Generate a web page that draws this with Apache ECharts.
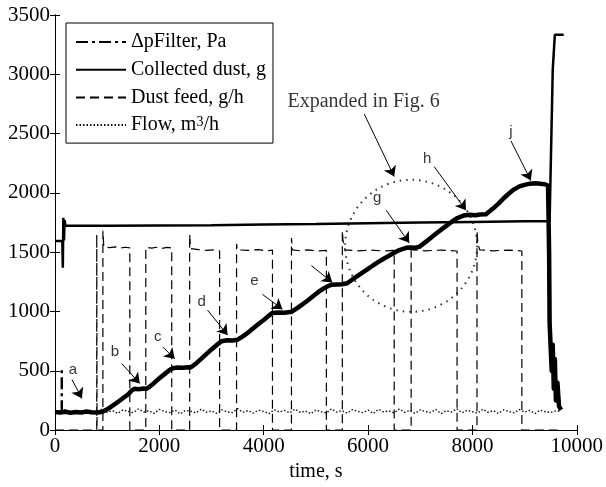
<!DOCTYPE html>
<html><head><meta charset="utf-8">
<script src="https://cdn.jsdelivr.net/npm/echarts@6.0.0/dist/echarts.min.js"></script>
<style>html,body{margin:0;padding:0;background:#fff}#c{width:606px;height:487px}</style>
</head><body><div id="c"></div>
<script>
// ---- data (time in s, values in axis units) ----
const xTicks = [0, 2000, 4000, 6000, 8000, 10000];
const yTicks = [0, 500, 1000, 1500, 2000, 2500, 3000, 3500];

const legendNames = ['ΔpFilter, Pa', 'Collected dust, g', 'Dust feed, g/h', 'Flow, m3/h'];

// ΔpFilter trace [time, Pa]
const dpFilter = [
  [0,152],[100,148],[200,155],[300,147],[400,153],[500,149],[600,156],[700,150],[800,148],[900,152],
  [920,152],[1000,175],[1100,205],[1200,235],[1300,268],[1400,300],[1480,338],[1530,348],[1600,345],[1700,350],[1750,348],
  [1800,362],[1900,398],[2000,437],[2100,472],[2200,508],[2262,522],[2350,527],[2450,525],[2550,530],[2600,528],
  [2700,560],[2800,600],[2900,640],[3000,680],[3100,718],[3190,750],[3300,757],[3400,755],[3500,762],
  [3600,790],[3700,822],[3800,858],[3900,895],[4000,928],[4100,965],[4170,988],[4300,992],[4400,990],[4540,998],
  [4650,1030],[4750,1062],[4850,1095],[4950,1130],[5050,1165],[5150,1195],[5250,1218],[5300,1225],[5400,1228],[5500,1230],[5600,1238],
  [5700,1270],[5800,1300],[5900,1330],[6000,1360],[6100,1390],[6200,1418],[6300,1445],[6400,1470],[6500,1495],[6600,1518],[6730,1537],[6800,1540],[6900,1538],[6980,1545],
  [7100,1585],[7200,1620],[7300,1655],[7400,1690],[7500,1722],[7600,1755],[7700,1785],[7840,1810],[7950,1815],[8050,1812],[8150,1818],[8260,1820],
  [8300,1835],[8400,1870],[8500,1910],[8600,1955],[8700,1995],[8800,2030],[8900,2055],[9000,2068],[9100,2078],[9200,2082],[9300,2078],[9400,2072],[9450,2060],
  [9470,1500],[9480,900],[9500,700],[9520,500],[9540,720],[9560,350],[9580,600],[9600,250],[9630,400],[9660,200],[9700,170]
];
// ΔpFilter start spike (dash-dot)
const dpSpike = [[130,150],[130,520]];

// Collected dust [time, g]
const collected = [
  [0,1595],[140,1595],[150,1370],[160,1790],[172,1600],[185,1770],[200,1722],[1000,1722],[2000,1725],[3000,1728],
  [4000,1733],[5000,1738],[6000,1744],[7000,1750],[8000,1755],[9000,1760],[9480,1762],[9540,3040],[9580,3333],[9750,3333]
];

// Dust feed [time, g/h]
const feed = [
  [0,0],[800,0],[800,1650],[806,0],
  [918,0],[918,1680],[935,1545],[1050,1538],[1150,1545],[1250,1535],[1350,1542],[1434,1536],[1434,0],
  [1740,0],[1740,1540],[1850,1535],[1950,1542],[2050,1532],[2150,1540],[2237,1535],[2237,0],
  [2581,0],[2581,1650],[2600,1530],[2750,1522],[2900,1515],[3050,1520],[3155,1512],[3155,0],
  [3480,0],[3480,1570],[3500,1520],[3700,1515],[3900,1522],[4050,1512],[4168,1518],[4168,0],
  [4532,0],[4532,1620],[4550,1520],[4700,1512],[4850,1520],[5000,1510],[5201,1515],[5201,0],
  [5507,0],[5507,1680],[5520,1600],[5540,1560],[5560,1520],[5800,1512],[6050,1518],[6300,1510],[6501,1515],[6501,0],
  [6826,0],[6826,1560],[6850,1520],[7100,1512],[7400,1518],[7706,1510],[7706,0],
  [8088,0],[8088,1680],[8100,1600],[8120,1550],[8140,1520],[8400,1512],[8700,1518],[8948,1510],[8948,0],[9700,0]
];

// Flow, sampled every 100 s from 0
const flowStep = 100;
const flowValues = [
  160,142,175,150,168,138,172,155,145,180,
  150,165,140,170,158,147,178,152,163,141,
  174,156,148,169,137,166,159,145,176,151,
  162,140,171,154,147,181,150,164,143,168,
  157,139,173,152,166,146,177,149,161,138,
  170,155,144,179,151,165,142,172,158,147,
  169,140,175,153,162,145,178,150,166,141,
  171,156,148,174,139,163,152,180,146,167,
  155,143,176,150,164,141,170,157,145,173,
  152,166,140,168,155,149,162,158
];

// annotations (data coordinates)
const letterTexts = ['a','b','c','d','e','g','h','j'];
const letterAt = [[344,510],[1147,660],[1969,785],[2811,1078],[3824,1261],[6176,1955],[7132,2289],[8738,2514]];
const arrows = [
  [325,426,516,267],[1281,560,1625,393],[2065,702,2294,601],[2925,1011,3308,802],[3977,1144,4359,1019],
  [4914,1387,5315,1245],[6348,1854,6788,1579],[7266,2222,7877,1854],[8738,2439,9120,2105],[5927,2665,6501,2138]
];
const expandedText = 'Expanded in Fig. 6';
const expandedAt = [4455, 2765];
const circleCenter = [6826, 1554];

// ---- chart ----
const serif = '"Liberation Serif", "Times New Roman", serif';
const chart = echarts.init(document.getElementById('c'), null, {renderer: 'canvas'});
const flow = flowValues.map((v, i) => [i * flowStep, v]);

const axisCommon = {
  type: 'value',
  axisLine: {show: true, lineStyle: {color: '#000', width: 1}},
  axisTick: {show: true, inside: true, length: 5, lineStyle: {color: '#000'}},
  splitLine: {show: false}
};
const serifRich = {s: {fontSize: 21, fontFamily: serif, color: '#000'}};
const labelStyle = {fontSize: 21, fontFamily: serif, color: '#000',
  formatter: v => '{s|' + v + '}', rich: serifRich};

chart.setOption({
  animation: false,
  backgroundColor: '#fff',
  textStyle: {fontFamily: serif},
  grid: {left: 55, right: 28, top: 15, bottom: 53},
  legend: {
    data: legendNames,
    orient: 'vertical',
    left: 66, top: 23,
    padding: [9, 7, 8, 9],
    itemWidth: 50, itemHeight: 14, itemGap: 7.7,
    borderColor: '#000', borderWidth: 1,
    backgroundColor: '#fff',
    selectedMode: false,
    itemStyle: {color: 'rgba(0,0,0,0)', borderWidth: 0, opacity: 0},
    formatter: n => n === 'Flow, m3/h' ? '{s|Flow, m}{sup|3}{s|/h}' : '{s|' + n + '}',
    textStyle: {
      fontSize: 20, fontFamily: serif, color: '#000', lineHeight: 20,
      rich: {
        s: {fontSize: 20, fontFamily: serif, color: '#000', lineHeight: 20},
        sup: {fontSize: 14, fontFamily: serif, color: '#000', verticalAlign: 'top', lineHeight: 12}
      }
    }
  },
  xAxis: [
    Object.assign({}, axisCommon, {
      min: xTicks[0], max: xTicks[xTicks.length - 1], interval: xTicks[1] - xTicks[0],
      axisLabel: Object.assign({margin: 6}, labelStyle),
      name: 'time, s', nameLocation: 'middle', nameGap: 26,
      nameTextStyle: {fontSize: 20, fontFamily: serif, color: '#000'}
    }),
    Object.assign({}, axisCommon, {
      position: 'top', min: xTicks[0], max: xTicks[xTicks.length - 1], interval: xTicks[1] - xTicks[0],
      axisLabel: {show: false}
    })
  ],
  yAxis: [
    Object.assign({}, axisCommon, {
      min: yTicks[0], max: yTicks[yTicks.length - 1], interval: yTicks[1] - yTicks[0],
      axisLabel: Object.assign({margin: 5}, labelStyle)
    }),
    Object.assign({}, axisCommon, {
      position: 'right', min: yTicks[0], max: yTicks[yTicks.length - 1], interval: yTicks[1] - yTicks[0],
      axisLabel: {show: false}
    })
  ],
  series: [
    {
      name: 'Dust feed, g/h', type: 'line', data: feed, symbol: 'none', z: 2,
      lineStyle: {color: '#000', width: 1.2, type: [9, 5]}, itemStyle: {color: '#000'}
    },
    {
      name: 'Flow, m3/h', type: 'line', data: flow, symbol: 'none', z: 3,
      lineStyle: {color: '#111', width: 1.4, type: [1.5, 2]}, itemStyle: {color: '#111'}
    },
    {
      name: 'ΔpFilter trace', type: 'line', data: dpFilter, symbol: 'none', z: 4,
      lineStyle: {color: '#000', width: 4.5, join: 'round'}, itemStyle: {color: '#000'}
    },
    {
      name: 'ΔpFilter, Pa', type: 'line', data: dpSpike, symbol: 'none', z: 4,
      lineStyle: {color: '#000', width: 2.5, type: [12, 4, 3, 4]}, itemStyle: {color: '#000'}
    },
    {
      name: 'Collected dust, g', type: 'line', data: collected, symbol: 'none', z: 5,
      lineStyle: {color: '#000', width: 2.5}, itemStyle: {color: '#000'}
    },
    {
      name: 'circle', type: 'scatter', data: [circleCenter], symbol: 'circle', symbolSize: 132, z: 3,
      silent: true,
      itemStyle: {color: 'rgba(0,0,0,0)', borderColor: '#000', borderWidth: 2, borderType: [1.5, 5]}
    },
    {
      name: 'letters', type: 'scatter', symbolSize: 0, z: 6, silent: true,
      data: letterAt.map((p, i) => [p[0], p[1], letterTexts[i]]),
      label: {show: true, position: 'inside', formatter: p => p.value[2],
        fontSize: 15, fontFamily: 'Liberation Sans', color: '#000'},
      markLine: {
        silent: true, symbol: ['none', 'arrow'], symbolSize: 10,
        label: {show: false},
        lineStyle: {color: '#000', width: 1, type: 'solid'},
        emphasis: {disabled: true},
        data: arrows.map(a => [{coord: [a[0], a[1]]}, {coord: [a[2], a[3]]}])
      }
    },
    {
      name: 'expanded', type: 'scatter', symbolSize: 0, z: 6, silent: true,
      data: [expandedAt],
      label: {show: true, position: 'right', distance: 0, formatter: expandedText,
        fontSize: 20, fontFamily: serif, color: '#000'}
    }
  ]
});
</script></body></html>
